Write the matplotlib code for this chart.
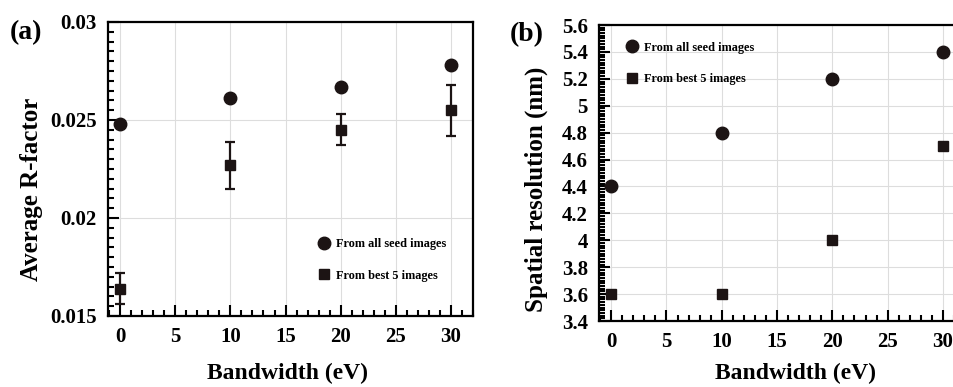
import numpy as np
import matplotlib
matplotlib.use('Agg')
import matplotlib.pyplot as plt
from matplotlib.ticker import MultipleLocator
from matplotlib.lines import Line2D

plt.rcParams['font.family'] = 'Liberation Serif'
plt.rcParams['font.weight'] = 'bold'
plt.rcParams['axes.labelweight'] = 'bold'

## bandwidth values (eV)
bandwidth = [0, 10, 20, 30]

## panel (a): average R-factor
rf_all = [0.0248, 0.0261, 0.0267, 0.0278]
rf_best = [0.0164, 0.0227, 0.0245, 0.0255]
rf_best_err = [0.0008, 0.0012, 0.0008, 0.0013]

## panel (b): spatial resolution (nm)
res_all = [4.4, 4.8, 5.2, 5.4]
res_best = [3.6, 3.6, 4.0, 4.7]

lbl_all = 'From all seed images'
lbl_best = 'From best 5 images'
mcol = '#1c1414'

fig = plt.figure(figsize=(9.54, 3.87), dpi=100)
ax1 = fig.add_axes([0.1132, 0.1835, 0.3826, 0.7597])
ax2 = fig.add_axes([0.6279, 0.1705, 0.3837, 0.7649])


def style(ax, ylo, yhi, ymaj, ymin):
	ax.set_xlim(-1.1, 32)
	ax.set_ylim(ylo, yhi)
	ax.xaxis.set_major_locator(MultipleLocator(5))
	ax.xaxis.set_minor_locator(MultipleLocator(1))
	ax.yaxis.set_major_locator(MultipleLocator(ymaj))
	ax.yaxis.set_minor_locator(MultipleLocator(ymin))
	ax.tick_params(which='both', direction='in', top=False, right=False, width=1.5,
				   labelsize=15, pad=8)
	ax.tick_params(which='major', length=8)
	ax.tick_params(which='minor', length=4.5)
	ax.grid(True, which='major', color='#dddddd', linewidth=0.8)
	ax.set_axisbelow(True)
	for s in ax.spines.values():
		s.set_linewidth(1.6)


def handles():
	return [Line2D([], [], ls='none', marker='o', color=mcol, ms=9, label=lbl_all),
			Line2D([], [], ls='none', marker='s', color=mcol, ms=7.5, label=lbl_best)]


## (a)
ax1.plot(bandwidth, rf_all, 'o', color=mcol, ms=9, zorder=4)
ax1.errorbar(bandwidth, rf_best, yerr=rf_best_err, fmt='s', color=mcol, ms=7.5,
			 elinewidth=1.6, capsize=3.5, capthick=1.6, zorder=4)
style(ax1, 0.015, 0.03, 0.005, 0.0005)
ax1.set_yticks([0.015, 0.02, 0.025, 0.03])
ax1.set_yticklabels(['0.015', '0.02', '0.025', '0.03'])
ax1.set_ylabel('Average R-factor', fontsize=18)
ax1.yaxis.set_label_coords(-0.178, 0.432)
ax1.set_xlabel('Bandwidth (eV)', fontsize=17)
ax1.xaxis.set_label_coords(0.493, -0.16)
ax1.legend(handles=handles(), loc='lower right', bbox_to_anchor=(0.94, 0.1), frameon=False,
		   fontsize=8.8, handlelength=1.0, handletextpad=0.5, labelspacing=1.6, borderaxespad=0)
ax1.text(-0.27, 0.963, '(a)', transform=ax1.transAxes, fontsize=20, va='center')

## (b)
ax2.plot(bandwidth, res_all, 'o', color=mcol, ms=9, zorder=4)
ax2.plot(bandwidth, res_best, 's', color=mcol, ms=7.5, zorder=4)
style(ax2, 3.4, 5.6, 0.2, 0.02)
ax2.set_yticks(np.arange(3.4, 5.61, 0.2))
ax2.set_yticklabels(['3.4', '3.6', '3.8', '4', '4.2', '4.4', '4.6', '4.8', '5', '5.2', '5.4', '5.6'])
ax2.set_ylabel('Spatial resolution (nm)', fontsize=18)
ax2.yaxis.set_label_coords(-0.139, 0.446)
ax2.set_xlabel('Bandwidth (eV)', fontsize=17)
ax2.xaxis.set_label_coords(0.538, -0.142)
ax2.legend(handles=handles(), loc='upper left', bbox_to_anchor=(0.06, 0.96), frameon=False,
		   fontsize=8.8, handlelength=1.0, handletextpad=0.5, labelspacing=1.6, borderaxespad=0)
ax2.text(-0.245, 0.966, '(b)', transform=ax2.transAxes, fontsize=20, va='center')

fig.savefig('out.png', dpi=100)
